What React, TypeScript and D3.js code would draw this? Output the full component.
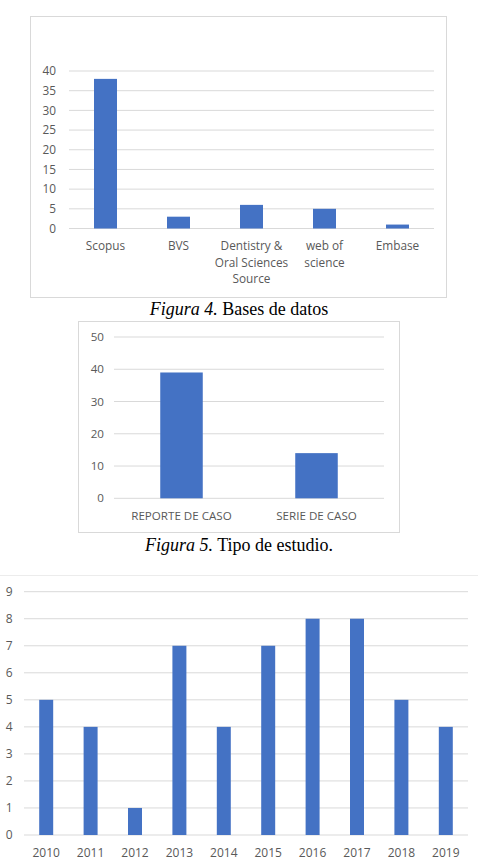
import * as d3 from 'd3';

const BASES = ['Scopus', 'BVS', 'Dentistry & Oral Sciences Source', 'web of science', 'Embase'];
const BASES_LINES = [['Scopus'], ['BVS'], ['Dentistry &', 'Oral Sciences', 'Source'], ['web of', 'science'], ['Embase']];
const BASES_VALUES = [38, 3, 6, 5, 1];
const BASES_TICKS = [0, 5, 10, 15, 20, 25, 30, 35, 40];

const TIPOS = ['REPORTE DE CASO', 'SERIE DE CASO'];
const TIPOS_VALUES = [39, 14];
const TIPOS_TICKS = [0, 10, 20, 30, 40, 50];

const YEARS = ['2010', '2011', '2012', '2013', '2014', '2015', '2016', '2017', '2018', '2019'];
const YEAR_VALUES = [5, 4, 1, 7, 4, 7, 8, 8, 5, 4];
const YEAR_TICKS = [0, 1, 2, 3, 4, 5, 6, 7, 8, 9];

const BAR = '#4472c4';
const GRID = '#d9d9d9';
const TEXT = '#595959';
const FONT = '"Open Sans", "Liberation Sans", sans-serif';
const SERIF = '"Liberation Serif", "Times New Roman", serif';
const BAR_RATIO = 0.315;

interface BarChartProps {
  labels: string[];
  lines: string[][];
  values: number[];
  ticks: number[];
  x0: number;
  x1: number;
  yTop: number;
  yBottom: number;
  tickX: number;
  labelY: number;
  fontSize: number;
}

function BarChart({ labels, lines, values, ticks, x0, x1, yTop, yBottom, tickX, labelY, fontSize }: BarChartProps) {
  const x = d3
    .scaleBand<string>()
    .domain(labels)
    .range([x0, x1])
    .paddingInner(1 - BAR_RATIO)
    .paddingOuter((1 - BAR_RATIO) / 2);
  const y = d3
    .scaleLinear()
    .domain([0, d3.max(ticks) ?? 1])
    .range([yBottom, yTop]);

  return (
    <g>
      {ticks.map((t) => (
        <g key={t}>
          <line x1={x0} x2={x1} y1={y(t)} y2={y(t)} stroke={GRID} strokeWidth={1} />
          <text x={tickX} y={y(t)} dy="0.35em" textAnchor="end" fontFamily={FONT} fontSize={fontSize} fill={TEXT}>
            {t}
          </text>
        </g>
      ))}
      {labels.map((l, i) => (
        <rect key={l} x={x(l)} y={y(values[i])} width={x.bandwidth()} height={y(0) - y(values[i])} fill={BAR} />
      ))}
      {labels.map((l, i) => (
        <text key={l} textAnchor="middle" fontFamily={FONT} fontSize={fontSize} fill={TEXT}>
          {lines[i].map((s, j) => (
            <tspan key={j} x={(x(l) ?? 0) + x.bandwidth() / 2} y={labelY + j * 16.5} dy="0.35em">
              {s}
            </tspan>
          ))}
        </text>
      ))}
    </g>
  );
}

export default function App() {
  return (
    <div style={{ position: 'absolute', left: 0, top: 0, background: '#fff' }}>
      <svg width={478} height={866} style={{ display: 'block' }}>
        <rect width={478} height={866} fill="#fff" />

        {/* Figura 4 */}
        <rect x={30.5} y={16.5} width={416} height={281} fill="#fff" stroke={GRID} />
        <BarChart
          labels={BASES}
          lines={BASES_LINES}
          values={BASES_VALUES}
          ticks={BASES_TICKS}
          x0={69}
          x1={434}
          yTop={71}
          yBottom={228.5}
          tickX={56}
          labelY={246}
          fontSize={11.8}
        />
        <text x={239} y={315} textAnchor="middle" fontFamily={SERIF} fontSize={18} fill="#000">
          <tspan fontStyle="italic">Figura 4.</tspan> Bases de datos
        </text>

        {/* Figura 5 */}
        <rect x={78.5} y={321.5} width={321} height={211} fill="#fff" stroke={GRID} />
        <BarChart
          labels={TIPOS}
          lines={TIPOS.map((t) => [t])}
          values={TIPOS_VALUES}
          ticks={TIPOS_TICKS}
          x0={114}
          x1={384}
          yTop={337}
          yBottom={498.3}
          tickX={104}
          labelY={516}
          fontSize={11.6}
        />
        <text x={239} y={551} textAnchor="middle" fontFamily={SERIF} fontSize={18} fill="#000">
          <tspan fontStyle="italic">Figura 5.</tspan> Tipo de estudio.
        </text>

        {/* Años */}
        <rect x={-1} y={575.5} width={480} height={300} fill="#fff" stroke="#ececec" />
        <BarChart
          labels={YEARS}
          lines={YEARS.map((t) => [t])}
          values={YEAR_VALUES}
          ticks={YEAR_TICKS}
          x0={24}
          x1={468}
          yTop={591.7}
          yBottom={835}
          tickX={12.5}
          labelY={853}
          fontSize={12}
        />
      </svg>
    </div>
  );
}
